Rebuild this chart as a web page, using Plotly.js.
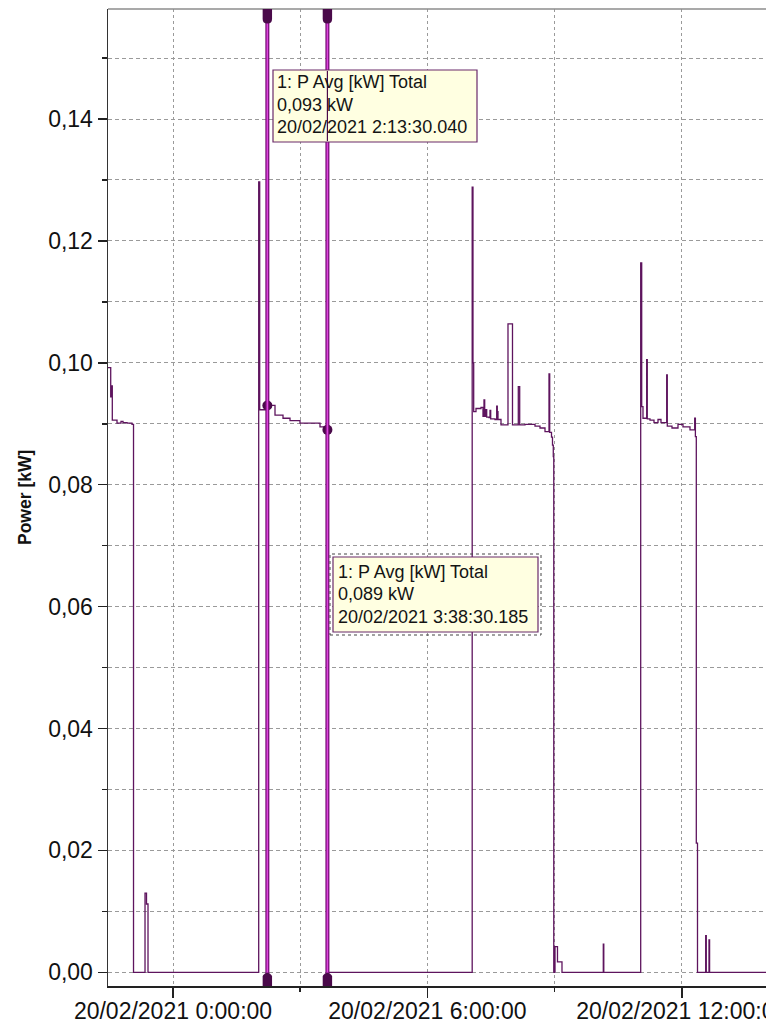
<!DOCTYPE html>
<html>
<head>
<meta charset="utf-8">
<script src="https://cdn.plot.ly/plotly-3.0.1.min.js"></script>
<style>
  html, body { margin: 0; padding: 0; background: #ffffff; overflow: hidden; }
  #chart { width: 766px; height: 1026px; }
</style>
</head>
<body>
<div id="chart"></div>
<script>
// Logged active power, total of all phases (kW), stepped samples
const powerTimes = [
  '2021-02-19 22:26:30', '2021-02-19 22:31:50', '2021-02-19 22:33:15', '2021-02-19 22:34:05',
  '2021-02-19 22:40:45', '2021-02-19 22:46:25', '2021-02-19 22:49:15', '2021-02-19 22:54:55',
  '2021-02-19 23:01:58', '2021-02-19 23:04:07', '2021-02-19 23:20:23', '2021-02-19 23:22:30',
  '2021-02-19 23:24:37',
  '2021-02-20 02:01:16', '2021-02-20 02:02:41', '2021-02-20 02:13:30.040', '2021-02-20 02:24:20',
  '2021-02-20 02:35:40', '2021-02-20 02:45:34', '2021-02-20 02:59:42', '2021-02-20 03:28:00',
  '2021-02-20 03:38:30.185', '2021-02-20 03:39:21',
  '2021-02-20 07:03:23', '2021-02-20 07:04:30', '2021-02-20 07:05:30', '2021-02-20 07:08:46',
  '2021-02-20 07:15:51', '2021-02-20 07:18:40', '2021-02-20 07:20:05', '2021-02-20 07:21:05',
  '2021-02-20 07:22:55', '2021-02-20 07:23:55', '2021-02-20 07:27:10', '2021-02-20 07:28:35',
  '2021-02-20 07:29:35', '2021-02-20 07:35:40', '2021-02-20 07:38:04', '2021-02-20 07:38:55',
  '2021-02-20 07:39:54', '2021-02-20 07:44:09', '2021-02-20 07:54:03', '2021-02-20 08:00:25',
  '2021-02-20 08:08:38', '2021-02-20 08:10:37', '2021-02-20 08:18:07', '2021-02-20 08:32:16',
  '2021-02-20 08:39:20', '2021-02-20 08:46:25', '2021-02-20 08:52:05', '2021-02-20 08:53:05',
  '2021-02-20 08:55:37', '2021-02-20 08:57:01', '2021-02-20 08:58:09', '2021-02-20 08:58:50',
  '2021-02-20 09:00:34', '2021-02-20 09:04:05', '2021-02-20 09:10:28',
  '2021-02-20 10:08:55', '2021-02-20 10:09:37',
  '2021-02-20 11:01:51', '2021-02-20 11:03:16', '2021-02-20 11:05:05', '2021-02-20 11:10:19',
  '2021-02-20 11:11:10', '2021-02-20 11:15:00', '2021-02-20 11:20:40', '2021-02-20 11:26:20',
  '2021-02-20 11:30:34', '2021-02-20 11:38:38', '2021-02-20 11:39:29', '2021-02-20 11:46:08',
  '2021-02-20 11:54:37', '2021-02-20 12:01:41', '2021-02-20 12:11:36', '2021-02-20 12:18:15',
  '2021-02-20 12:19:15', '2021-02-20 12:20:32', '2021-02-20 12:22:14',
  '2021-02-20 12:33:49', '2021-02-20 12:34:40', '2021-02-20 12:38:30', '2021-02-20 12:39:20',
  '2021-02-20 14:10:00'
];
const powerKW = [
  0.0992, 0.0944, 0.0962, 0.0906,
  0.0901, 0.0904, 0.0902, 0.0901,
  0.0899, 0.0000, 0.0130, 0.0112,
  0.0000,
  0.1297, 0.0923, 0.0930, 0.0914,
  0.0909, 0.0905, 0.0901, 0.0895,
  0.0890, 0.0000,
  0.1288, 0.1000, 0.0920, 0.0925,
  0.0927, 0.0912, 0.0939, 0.0912,
  0.0923, 0.0911, 0.0910, 0.0922,
  0.0908, 0.0907, 0.0929, 0.0920,
  0.0907, 0.0898, 0.1064, 0.0898,
  0.0961, 0.0898, 0.0899, 0.0896,
  0.0893, 0.0887, 0.0982, 0.0886,
  0.0878, 0.0865, 0.0846, 0.0000,
  0.0042, 0.0017, 0.0000,
  0.0046, 0.0000,
  0.1164, 0.0928, 0.0909, 0.1005,
  0.0908, 0.0906, 0.0902, 0.0907,
  0.0902, 0.0980, 0.0896, 0.0893,
  0.0899, 0.0895, 0.0890, 0.0909,
  0.0879, 0.0212, 0.0000,
  0.0060, 0.0000, 0.0053, 0.0000,
  0.0000
];

// Two measurement cursors and their read-outs
const seriesName = '1: P Avg [kW] Total';
const cursorTimes = ['2021-02-20 02:13:30.040', '2021-02-20 03:38:30.185'];
const cursorKW = [0.093, 0.089];
const cursorStamps = ['20/02/2021 2:13:30.040', '20/02/2021 3:38:30.185'];

// Axis window and tick steps
const xWindow = ['2021-02-19 22:28:00', '2021-02-20 13:59:10'];
const yWindow = [-0.00225, 0.15805];
const HOUR = 3600000;

// Plot frame in page pixels
const FRAME = { left: 108, right: 766, top: 9, bottom: 986 };
const px = x => (x - FRAME.left) / (FRAME.right - FRAME.left);
const py = y => (FRAME.bottom - y) / (FRAME.bottom - FRAME.top);

const FONT = 'Arial, "Liberation Sans", sans-serif';
const GRID = '#9a9a9a';
const INK = '#222222';

const fmtKW = v => v.toFixed(3).replace('.', ',') + ' kW';

const traces = [
  {
    type: 'scatter', mode: 'lines', x: powerTimes, y: powerKW,
    line: { shape: 'hv', color: '#5e145e', width: 1.3 },
    hoverinfo: 'skip'
  },
  {
    type: 'scatter', mode: 'markers', x: cursorTimes, y: cursorKW,
    marker: { size: 10, color: '#4a0a4a' }, cliponaxis: false,
    hoverinfo: 'skip'
  }
];

const shapes = [
  // top frame edge
  { type: 'line', xref: 'paper', yref: 'paper', x0: 0, x1: 1, y0: 1, y1: 1,
    line: { color: '#8c8c8c', width: 1.5 } }
];

cursorTimes.forEach(t => {
  shapes.push({ type: 'line', xref: 'x', yref: 'paper', x0: t, x1: t, y0: 0, y1: 1,
    line: { color: '#720a72', width: 4 } });
  shapes.push({ type: 'line', xref: 'x', yref: 'paper', x0: t, x1: t, y0: 0, y1: 1,
    line: { color: '#dc44dc', width: 1.6 } });
  // drag handles at both ends of the cursor
  shapes.push({ type: 'path', xref: 'x', xsizemode: 'pixel', xanchor: t,
    yref: 'paper', ysizemode: 'pixel', yanchor: 1,
    path: 'M-4.7,0 L4.7,0 L4.7,-10 Q4.7,-14.5 0,-14.5 Q-4.7,-14.5 -4.7,-10 Z',
    fillcolor: '#4a0a4a', line: { width: 0 } });
  shapes.push({ type: 'path', xref: 'x', xsizemode: 'pixel', xanchor: t,
    yref: 'paper', ysizemode: 'pixel', yanchor: 0,
    path: 'M-4.7,0 L-4.7,9.5 Q-4.7,11.5 0,13.5 Q4.7,11.5 4.7,9.5 L4.7,0 Z',
    fillcolor: '#4a0a4a', line: { width: 0 } });
});

// read-out boxes: [left, top, right, bottom] in page pixels
const boxes = [
  { rect: [273, 70, 477, 142], lines: [82, 104.5, 127], textX: 276 },
  { rect: [333, 557, 538, 632], lines: [572, 594, 616.5], textX: 337, focus: [330, 554, 541, 635] }
];

const annotations = [
  { xref: 'paper', yref: 'paper', x: px(25), y: py(498), text: 'Power [kW]', textangle: -90,
    showarrow: false, xanchor: 'center', yanchor: 'middle',
    font: { family: FONT, size: 17.5, color: '#111', weight: 'bold' } }
];

boxes.forEach((b, i) => {
  if (b.focus) {
    shapes.push({ type: 'rect', xref: 'paper', yref: 'paper',
      x0: px(b.focus[0]), x1: px(b.focus[2]), y0: py(b.focus[3]), y1: py(b.focus[1]),
      fillcolor: 'rgba(0,0,0,0)', line: { color: '#444444', width: 1, dash: 'dot' } });
  }
  shapes.push({ type: 'rect', xref: 'paper', yref: 'paper',
    x0: px(b.rect[0]), x1: px(b.rect[2]), y0: py(b.rect[3]), y1: py(b.rect[1]),
    fillcolor: '#ffffe1', line: { color: '#6a2a6a', width: 1.2 } });
  const texts = [seriesName, fmtKW(cursorKW[i]), cursorStamps[i]];
  texts.forEach((txt, k) => {
    annotations.push({ xref: 'paper', yref: 'paper', x: px(b.textX), y: py(b.lines[k]),
      text: txt, showarrow: false, xanchor: 'left', yanchor: 'middle', borderpad: 0,
      font: { family: FONT, size: 18, color: '#141414' } });
  });
});

// second cursor shows through the first read-out box as a thin dark line
shapes.push({ type: 'line', xref: 'x', yref: 'paper', x0: cursorTimes[1], x1: cursorTimes[1],
  y0: py(boxes[0].rect[3] - 1), y1: py(boxes[0].rect[1] + 1),
  line: { color: '#4a0a4a', width: 1.2 } });

const layout = {
  width: 766, height: 1026,
  margin: { l: FRAME.left, r: 0, t: FRAME.top, b: 1026 - FRAME.bottom, pad: 0 },
  paper_bgcolor: '#ffffff', plot_bgcolor: '#ffffff',
  separators: ',.',
  showlegend: false,
  font: { family: FONT, size: 23, color: '#111111' },
  xaxis: {
    type: 'date', range: xWindow,
    tickmode: 'linear', tick0: '2021-02-20 00:00:00', dtick: 6 * HOUR,
    tickformat: '%d/%m/%Y %-H:%M:%S',
    ticklabeloverflow: 'allow', ticklabelstandoff: -6,
    ticks: 'outside', ticklen: 10, tickwidth: 1.5, tickcolor: INK,
    tickfont: { family: FONT, size: 23, color: '#111111' },
    showline: true, linecolor: INK, linewidth: 1.5,
    showgrid: true, gridcolor: GRID, gridwidth: 1, griddash: '3px,3px',
    zeroline: false,
    minor: { tick0: '2021-02-20 00:00:00', dtick: 3 * HOUR, ticks: 'outside', ticklen: 4,
      tickwidth: 1.5, tickcolor: INK, showgrid: true, gridcolor: GRID, gridwidth: 1,
      griddash: '3px,3px' }
  },
  yaxis: {
    range: yWindow,
    tickmode: 'linear', tick0: 0, dtick: 0.02, tickformat: '.2f',
    ticks: 'outside', ticklen: 9, tickwidth: 1.5, tickcolor: INK,
    tickfont: { family: FONT, size: 23, color: '#111111' },
    showline: true, linecolor: '#333333', linewidth: 1.5,
    showgrid: true, gridcolor: GRID, gridwidth: 1, griddash: '4px,3px',
    zeroline: false,
    minor: { tick0: 0, dtick: 0.01, ticks: 'outside', ticklen: 5, tickwidth: 1.5,
      tickcolor: INK, showgrid: true, gridcolor: GRID, gridwidth: 1, griddash: '4px,3px' }
  },
  shapes: shapes,
  annotations: annotations
};

Plotly.newPlot('chart', traces, layout, { staticPlot: true, displayModeBar: false });
</script>
</body>
</html>
